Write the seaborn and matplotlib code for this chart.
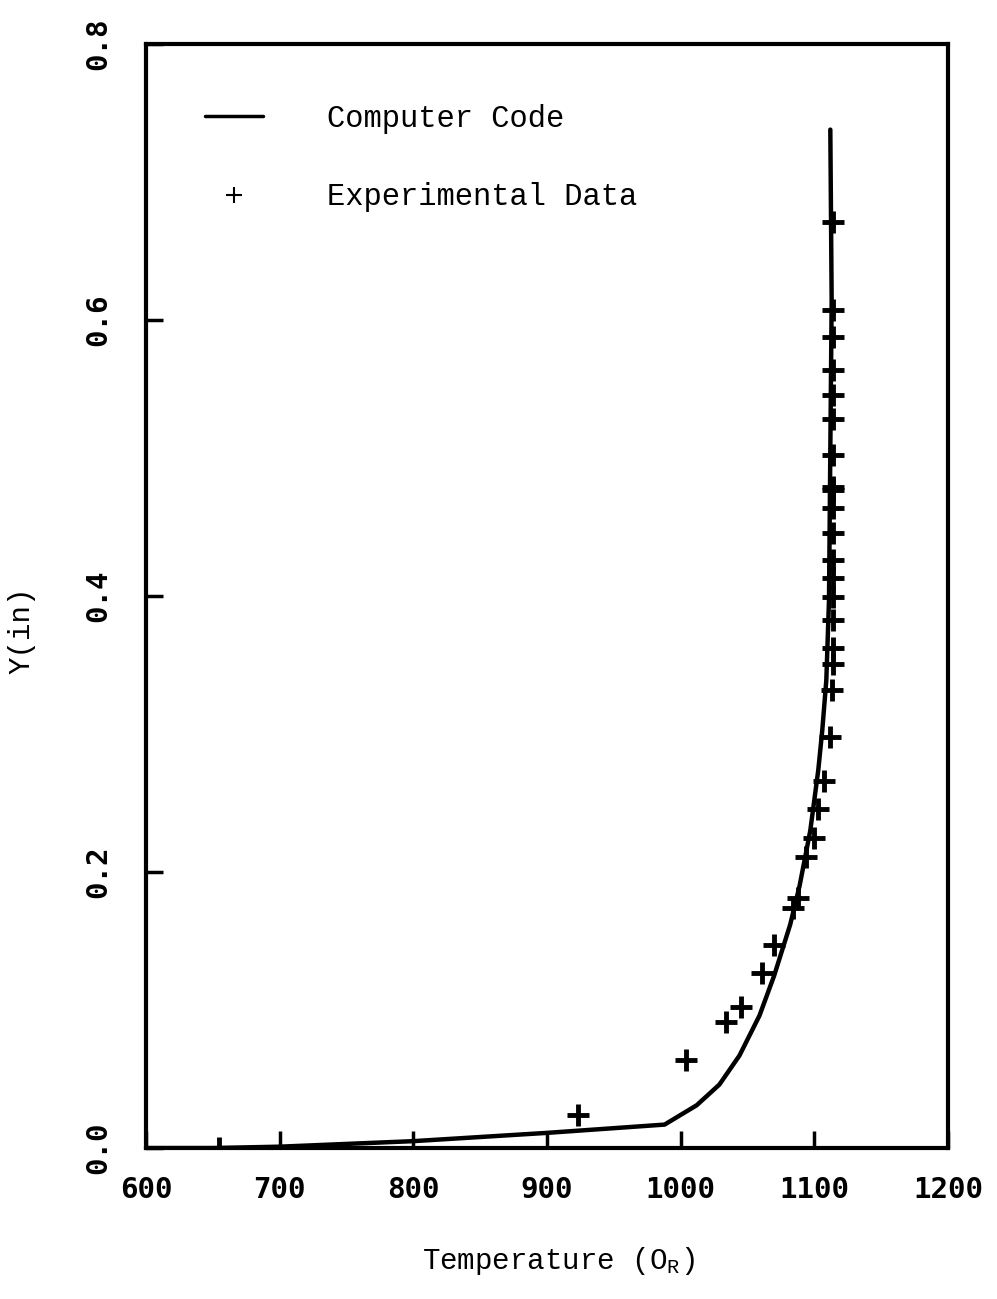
import matplotlib
matplotlib.use('Agg')
import matplotlib.pyplot as plt
import seaborn as sns
import pandas as pd
from matplotlib.lines import Line2D

# Computer code curve (temperature in deg R, Y in inches)
code_temp = [600, 650, 700, 800, 900, 988, 1012, 1029, 1044, 1059, 1070, 1082,
             1089, 1097, 1103, 1106, 1109, 1111, 1112, 1113, 1112]
code_y = [0.0, 0.0, 0.001, 0.005, 0.011, 0.017, 0.031, 0.046, 0.067, 0.096, 0.125, 0.162,
          0.19, 0.23, 0.274, 0.303, 0.339, 0.397, 0.506, 0.614, 0.738]

# Experimental data
exp_temp = [655, 923, 1004, 1034, 1045, 1061, 1070, 1084, 1088, 1094, 1100, 1103,
            1107, 1112, 1113, 1114, 1114, 1114, 1114, 1114, 1114, 1114, 1114, 1114,
            1114, 1114, 1114, 1114, 1114, 1114, 1114, 1114]
exp_y = [0.0, 0.024, 0.064, 0.091, 0.102, 0.127, 0.147, 0.174, 0.181, 0.211, 0.225, 0.246,
         0.266, 0.298, 0.332, 0.351, 0.362, 0.383, 0.399, 0.413, 0.426, 0.446, 0.464, 0.477,
         0.479, 0.502, 0.528, 0.546, 0.564, 0.588, 0.607, 0.671]

x_ticks = [600, 700, 800, 900, 1000, 1100, 1200]
y_ticks = [0.0, 0.2, 0.4, 0.6, 0.8]

code_df = pd.DataFrame({'temp': code_temp, 'y': code_y})
exp_df = pd.DataFrame({'temp': exp_temp, 'y': exp_y})

sns.set_style('ticks')
plt.rcParams['font.family'] = ['Liberation Mono', 'DejaVu Sans Mono']
plt.rcParams['text.color'] = 'black'
plt.rcParams['axes.labelcolor'] = 'black'
plt.rcParams['xtick.color'] = 'black'
plt.rcParams['ytick.color'] = 'black'

fig = plt.figure(figsize=(9.97, 12.99), dpi=100)
ax = fig.add_axes([0.1464, 0.1162, 0.8044, 0.8499])

# estimator=None so repeated x values are not averaged
sns.lineplot(data=code_df, x='temp', y='y', sort=False, estimator=None,
             color='black', lw=3.2, ax=ax)
sns.scatterplot(data=exp_df, x='temp', y='y', marker='+', s=260, color='black',
                linewidth=3.5, ax=ax, zorder=3)

ax.set_xlim(600, 1200)
ax.set_ylim(0, 0.8)
ax.set_xticks(x_ticks)
ax.set_yticks(y_ticks)
ax.set_xticklabels([str(t) for t in x_ticks], fontfamily='DejaVu Sans Mono',
                   fontweight='bold', fontsize=21)
ax.set_yticklabels([f'{t:.1f}' for t in y_ticks], fontfamily='DejaVu Sans Mono',
                   fontweight='bold', fontsize=21)
ax.tick_params(axis='both', direction='in', length=12, width=2.5, color='black')
ax.tick_params(axis='x', pad=20)
ax.tick_params(axis='y', pad=24, labelrotation=90)
for lbl in ax.get_yticklabels():
    lbl.set_va('center')

for sp in ax.spines.values():
    sp.set_linewidth(3)
    sp.set_color('black')

ax.set_xlabel('Temperature (O$_\\mathregular{R}$)', fontsize=21)
ax.set_ylabel('Y(in)', fontsize=21)
ax.xaxis.set_label_coords(0.514, -0.088)
ax.yaxis.set_label_coords(-0.138, 0.469)

handles = [Line2D([], [], color='black', lw=2.5),
           Line2D([], [], color='black', marker='+', ls='', markersize=12, markeredgewidth=1.5)]
ax.legend(handles, ['Computer Code', 'Experimental Data'], loc='upper left',
          bbox_to_anchor=(0.039, 0.971), frameon=False, fontsize=22,
          handlelength=1.9, handletextpad=2.1, labelspacing=1.6)

fig.savefig('out.png', dpi=100)
